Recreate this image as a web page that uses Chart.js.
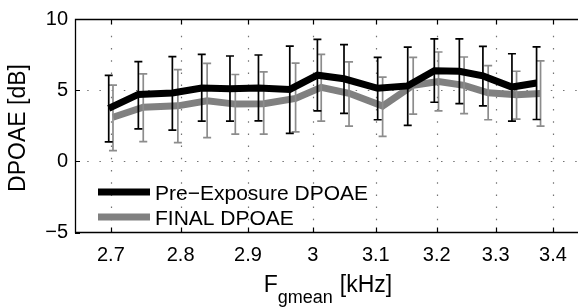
<!DOCTYPE html>
<html>
<head>
<meta charset="utf-8">
<script src="https://cdn.jsdelivr.net/npm/chart.js@4.4.0/dist/chart.umd.min.js"></script>
<style>
  html, body { margin: 0; padding: 0; overflow: hidden; background: #fff; }
  #wrap { position: relative; width: 590px; height: 307px; }
</style>
</head>
<body>
<div id="wrap"><canvas id="chart"></canvas></div>
<script>
// tick labels
const xTicks = [2.7, 2.8, 2.9, 3.0, 3.1, 3.2, 3.3, 3.4];
const yTicks = [-5, 0, 5, 10];

// Pre-Exposure DPOAE (black)
const preFreq  = [2.697, 2.739, 2.788, 2.831, 2.873, 2.916, 2.964, 3.007, 3.049, 3.103, 3.152, 3.196, 3.238, 3.278, 3.328, 3.371];
const preMean  = [3.72, 4.70, 4.80, 5.15, 5.10, 5.15, 5.05, 6.05, 5.80, 5.13, 5.30, 6.37, 6.33, 6.00, 5.22, 5.50];
const preUpper = [6.04, 7.01, 7.35, 7.52, 7.40, 7.47, 8.09, 8.57, 8.20, 7.31, 8.02, 8.61, 8.61, 8.07, 7.56, 8.04];
const preLower = [1.37, 2.28, 2.19, 2.82, 2.82, 2.84, 1.96, 3.55, 3.37, 2.92, 2.53, 4.15, 4.06, 3.90, 2.82, 2.94];

// FINAL DPOAE (gray)
const finalFreq  = [2.703, 2.746, 2.796, 2.839, 2.881, 2.924, 2.973, 3.013, 3.057, 3.111, 3.161, 3.203, 3.246, 3.287, 3.336, 3.378];
const finalMean  = [3.10, 3.80, 3.90, 4.26, 4.02, 4.05, 4.42, 5.20, 4.78, 3.88, 5.35, 5.60, 5.34, 4.82, 4.68, 4.76];
const finalUpper = [5.35, 6.15, 6.45, 6.88, 6.10, 6.29, 6.90, 7.52, 6.99, 5.92, 7.31, 7.68, 7.33, 6.72, 6.33, 7.06];
const finalLower = [0.75, 1.39, 1.32, 1.66, 1.91, 1.91, 2.07, 2.82, 2.48, 1.75, 3.32, 3.55, 3.35, 2.92, 2.96, 2.48];

const FONT = "'Liberation Sans', Arial, Helvetica, sans-serif";

function toPoints(freq, mean) {
    return freq.map((f, i) => ({ x: f, y: mean[i] }));
}

// error bars, drawn right after their own dataset
const errorBars = {
    id: 'errorBars',
    afterDatasetDraw(chart, args) {
        const ds = chart.data.datasets[args.index];
        if (!ds.errUpper) return;
        const { ctx } = chart;
        const xs = chart.scales.x, ys = chart.scales.y;
        ctx.save();
        ctx.strokeStyle = ds.errColor;
        ctx.lineWidth = 1.7;
        ds.data.forEach((p, i) => {
            const px = xs.getPixelForValue(p.x);
            const top = ys.getPixelForValue(ds.errUpper[i]);
            const bot = ys.getPixelForValue(ds.errLower[i]);
            ctx.beginPath();
            ctx.moveTo(px, top); ctx.lineTo(px, bot);
            ctx.moveTo(px - 4, top); ctx.lineTo(px + 4, top);
            ctx.moveTo(px - 4, bot); ctx.lineTo(px + 4, bot);
            ctx.stroke();
        });
        ctx.restore();
    }
};

// matlab style frame: dotted grid, box, inner ticks, legend, axis titles
const matlabFrame = {
    id: 'matlabFrame',
    beforeDatasetsDraw(chart) {
        const { ctx, chartArea: a } = chart;
        const xs = chart.scales.x, ys = chart.scales.y;
        ctx.save();
        ctx.strokeStyle = 'rgba(0,0,0,0.55)';
        ctx.lineWidth = 1.2;
        ctx.setLineDash([1.5, 10.7]);
        xTicks.forEach(v => {
            const px = Math.round(xs.getPixelForValue(v)) + 0.5;
            ctx.beginPath(); ctx.moveTo(px, a.bottom); ctx.lineTo(px, a.top); ctx.stroke();
        });
        yTicks.forEach(v => {
            if (v === ys.min || v === ys.max) return;
            const py = Math.round(ys.getPixelForValue(v)) + 0.5;
            ctx.beginPath(); ctx.moveTo(a.left, py); ctx.lineTo(a.right, py); ctx.stroke();
        });
        ctx.restore();
    },
    afterDraw(chart) {
        const { ctx, chartArea: a } = chart;
        const xs = chart.scales.x, ys = chart.scales.y;
        ctx.save();
        ctx.strokeStyle = '#000';
        ctx.lineWidth = 1.3;
        ctx.beginPath();
        ctx.moveTo(a.right, a.top + 0.5); ctx.lineTo(a.left + 0.5, a.top + 0.5);
        ctx.lineTo(a.left + 0.5, a.bottom); ctx.lineTo(a.right, a.bottom);
        ctx.stroke();

        // inner tick marks
        ctx.lineWidth = 1.2;
        ctx.beginPath();
        xTicks.forEach(v => {
            const px = Math.round(xs.getPixelForValue(v)) + 0.5;
            ctx.moveTo(px, a.bottom); ctx.lineTo(px, a.bottom - 5);
            ctx.moveTo(px, a.top); ctx.lineTo(px, a.top + 5);
        });
        yTicks.forEach(v => {
            const py = Math.round(ys.getPixelForValue(v)) + 0.5;
            ctx.moveTo(a.left, py); ctx.lineTo(a.left + 5, py);
        });
        ctx.stroke();

        // legend
        const rows = chart.data.datasets;
        ctx.font = '21px ' + FONT;
        ctx.fillStyle = '#000';
        ctx.textBaseline = 'alphabetic';
        rows.forEach((ds, i) => {
            const cy = a.top + 173 + i * 25;
            ctx.strokeStyle = ds.borderColor;
            ctx.lineWidth = 7;
            ctx.beginPath();
            ctx.moveTo(a.left + 23, cy); ctx.lineTo(a.left + 75, cy);
            ctx.stroke();
            ctx.fillText(ds.label, a.left + 80, cy + 7.5);
        });

        // x title with subscript
        const cx = (a.left + a.right) / 2;
        const base = a.bottom + 59;
        ctx.font = '23px ' + FONT;
        const wF = ctx.measureText('F').width;
        const wU = ctx.measureText('[kHz]').width;
        ctx.font = '18px ' + FONT;
        const wS = ctx.measureText('gmean').width;
        const gap = 7;
        let x0 = cx - (wF + wS + gap + wU) / 2;
        ctx.textAlign = 'left';
        ctx.font = '23px ' + FONT;
        ctx.fillText('F', x0, base);
        ctx.font = '18px ' + FONT;
        ctx.fillText('gmean', x0 + wF, base + 11);
        ctx.font = '23px ' + FONT;
        ctx.fillText('[kHz]', x0 + wF + wS + gap, base);

        // y title
        ctx.save();
        ctx.translate(25, 128);
        ctx.rotate(-Math.PI / 2);
        ctx.textAlign = 'center';
        ctx.font = '23px ' + FONT;
        ctx.fillText('DPOAE [dB]', 0, 0);
        ctx.restore();
        ctx.restore();
    }
};

new Chart(document.getElementById('chart'), {
    type: 'line',
    data: {
        datasets: [
            {
                label: 'Pre\u2212Exposure DPOAE',
                data: toPoints(preFreq, preMean),
                errUpper: preUpper, errLower: preLower, errColor: '#000',
                borderColor: '#000',
                borderWidth: 7,
                pointRadius: 0,
                tension: 0,
                borderJoinStyle: 'miter',
                order: 1
            },
            {
                label: 'FINAL DPOAE',
                data: toPoints(finalFreq, finalMean),
                errUpper: finalUpper, errLower: finalLower, errColor: '#8c8c8c',
                borderColor: '#808080',
                borderWidth: 7,
                pointRadius: 0,
                tension: 0,
                borderJoinStyle: 'miter',
                order: 2
            }
        ]
    },
    options: {
        responsive: true,
        maintainAspectRatio: false,
        animation: false,
        layout: { padding: { left: 0, top: 12, right: 9, bottom: 0 } },
        plugins: { legend: { display: false }, tooltip: { enabled: false } },
        scales: {
            x: {
                type: 'logarithmic',
                min: 2.65,
                max: 3.45,
                afterBuildTicks: s => { s.ticks = xTicks.map(v => ({ value: v })); },
                afterFit: s => { s.height = 74.5; },
                grid: { display: false, drawTicks: false },
                border: { display: false },
                ticks: {
                    color: '#000', padding: 11, maxRotation: 0, autoSkip: false,
                    font: { family: FONT, size: 20 },
                    callback: v => String(v)
                }
            },
            y: {
                min: -5,
                max: 10,
                afterBuildTicks: s => { s.ticks = yTicks.map(v => ({ value: v })); },
                afterFit: s => { s.width = 75; },
                grid: { display: false, drawTicks: false },
                border: { display: false },
                ticks: {
                    color: '#000', padding: 7,
                    font: { family: FONT, size: 20 },
                    callback: v => v < 0 ? '\u2212' + Math.abs(v) : String(v)
                }
            }
        }
    },
    plugins: [errorBars, matlabFrame]
});
</script>
</body>
</html>
